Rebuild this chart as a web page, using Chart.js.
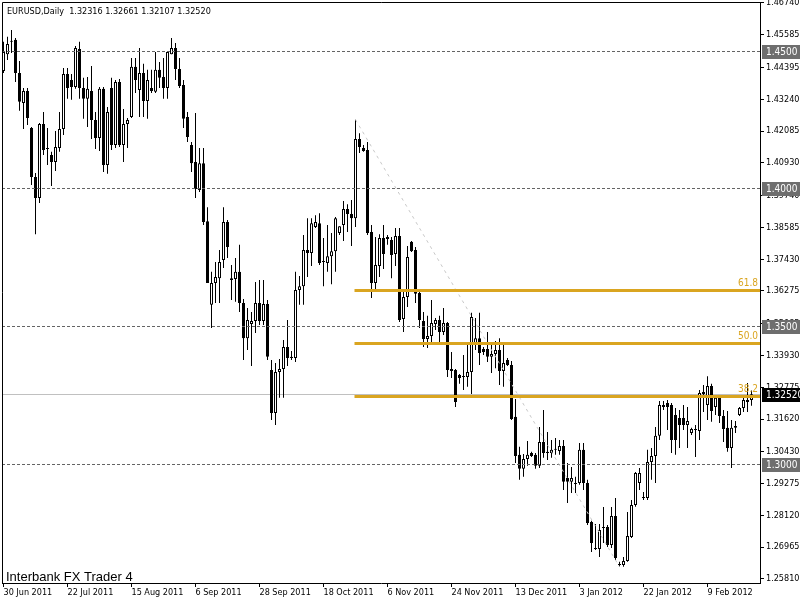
<!DOCTYPE html>
<html>
<head>
<meta charset="utf-8">
<script src="https://cdn.jsdelivr.net/npm/chart.js@4.4.1/dist/chart.umd.min.js"></script>
<style>
html, body { margin: 0; padding: 0; background: #fff; }
canvas { display: block; }
</style>
</head>
<body>
<canvas id="chart" width="800" height="600"></canvas>
<script>
const symbol = 'EURUSD,Daily';
const broker = 'Interbank FX Trader 4';

// date labels sit under every 16th daily bar
const tickBars = [0, 16, 32, 48, 64, 80, 96, 112, 128, 144, 160, 176];
const tickLabels = ['30 Jun 2011', '22 Jul 2011', '15 Aug 2011', '6 Sep 2011', '28 Sep 2011', '18 Oct 2011',
  '6 Nov 2011', '24 Nov 2011', '13 Dec 2011', '3 Jan 2012', '22 Jan 2012', '9 Feb 2012'];
const priceTicks = [1.46740, 1.45585, 1.44395, 1.43240, 1.42085, 1.40930, 1.39740, 1.38585, 1.37430, 1.36275,
  1.35085, 1.33930, 1.32775, 1.31620, 1.30430, 1.29275, 1.28120, 1.26965, 1.25810];

const open = [1.4427, 1.4488, 1.4533, 1.4540, 1.4420, 1.4311, 1.4354, 1.4220, 1.4042, 1.3965,
  1.4234, 1.4147, 1.4122, 1.4096, 1.4147, 1.4216, 1.4416, 1.4394, 1.4369, 1.4507,
  1.4365, 1.4326, 1.4354, 1.4249, 1.4183, 1.4362, 1.4085, 1.4365, 1.4158, 1.4387,
  1.4158, 1.4234, 1.4260, 1.4442, 1.4358, 1.4420, 1.4318, 1.4365, 1.4351, 1.4431,
  1.4405, 1.4365, 1.4488, 1.4510, 1.4434, 1.4376, 1.4260, 1.4158, 1.4096, 1.3994,
  1.4092, 1.3881, 1.3577, 1.3656, 1.3674, 1.3740, 1.3878, 1.3674, 1.3671, 1.3697,
  1.3584, 1.3456, 1.3507, 1.3518, 1.3584, 1.3518, 1.3580, 1.3340, 1.3184, 1.3333,
  1.3344, 1.3424, 1.3384, 1.3384, 1.3631, 1.3645, 1.3776, 1.3765, 1.3860, 1.3874,
  1.3733, 1.3729, 1.3754, 1.3772, 1.3838, 1.3867, 1.3925, 1.3907, 1.3892, 1.4180,
  1.4147, 1.4140, 1.3842, 1.3656, 1.3718, 1.3820, 1.3824, 1.3813, 1.3762, 1.3827,
  1.3526, 1.3606, 1.3806, 1.3776, 1.3620, 1.3518, 1.3453, 1.3464, 1.3507, 1.3522,
  1.3478, 1.3511, 1.3344, 1.3340, 1.3322, 1.3315, 1.3315, 1.3333, 1.3438, 1.3456,
  1.3417, 1.3417, 1.3388, 1.3398, 1.3413, 1.3337, 1.3377, 1.3358, 1.3170, 1.3032,
  1.2981, 1.3017, 1.3039, 1.3032, 1.2992, 1.3079, 1.3043, 1.3039, 1.3050, 1.3046,
  1.3064, 1.2948, 1.2934, 1.2930, 1.2930, 1.3050, 1.2930, 1.2788, 1.2693, 1.2690,
  1.2766, 1.2770, 1.2704, 1.2810, 1.2635, 1.2632, 1.2646, 1.2733, 1.2850, 1.2930,
  1.2879, 1.2875, 1.3006, 1.3028, 1.3101, 1.3213, 1.3220, 1.3213, 1.3177, 1.3166,
  1.3166, 1.3140, 1.3111, 1.3126, 1.3119, 1.3260, 1.3213, 1.3282, 1.3206, 1.3239,
  1.3173, 1.3130, 1.3057, 1.3130, 1.3177, 1.3202, 1.3231, 1.32316];
const high = [1.4533, 1.4551, 1.4576, 1.4547, 1.4463, 1.4365, 1.4365, 1.4223, 1.4056, 1.4238,
  1.4278, 1.4220, 1.4133, 1.4209, 1.4278, 1.4438, 1.4438, 1.4416, 1.4518, 1.4533,
  1.4402, 1.4405, 1.4445, 1.4278, 1.4369, 1.4369, 1.4296, 1.4402, 1.4394, 1.4398,
  1.4289, 1.4256, 1.4474, 1.4474, 1.4510, 1.4453, 1.4431, 1.4431, 1.4496, 1.4460,
  1.4474, 1.4496, 1.4547, 1.4529, 1.4474, 1.4394, 1.4278, 1.4169, 1.4274, 1.4147,
  1.4147, 1.3932, 1.3697, 1.3733, 1.3776, 1.3932, 1.3885, 1.3722, 1.3747, 1.3795,
  1.3598, 1.3566, 1.3551, 1.3660, 1.3667, 1.3667, 1.3595, 1.3377, 1.3366, 1.3380,
  1.3449, 1.3522, 1.3409, 1.3697, 1.3682, 1.3831, 1.3892, 1.3892, 1.3903, 1.3910,
  1.3820, 1.3867, 1.3838, 1.3896, 1.3863, 1.3954, 1.3943, 1.3958, 1.4250, 1.4201,
  1.4158, 1.4169, 1.3867, 1.3824, 1.3834, 1.3867, 1.3831, 1.3824, 1.3856, 1.3856,
  1.3631, 1.3791, 1.3809, 1.3787, 1.3631, 1.3551, 1.3537, 1.3595, 1.3529, 1.3537,
  1.3566, 1.3515, 1.3406, 1.3344, 1.3326, 1.3395, 1.3431, 1.3548, 1.3529, 1.3548,
  1.3424, 1.3478, 1.3442, 1.3446, 1.3456, 1.3438, 1.3384, 1.3373, 1.3235, 1.3061,
  1.3035, 1.3082, 1.3043, 1.3039, 1.3133, 1.3195, 1.3115, 1.3086, 1.3093, 1.3086,
  1.3086, 1.3002, 1.2988, 1.2952, 1.3075, 1.3075, 1.2941, 1.2792, 1.2781, 1.2781,
  1.2842, 1.2777, 1.2842, 1.2875, 1.2643, 1.2661, 1.2824, 1.2868, 1.2970, 1.2984,
  1.2897, 1.3050, 1.3057, 1.3133, 1.3228, 1.3228, 1.3231, 1.3220, 1.3202, 1.3195,
  1.3213, 1.3206, 1.3130, 1.3140, 1.3268, 1.3286, 1.3318, 1.3290, 1.3249, 1.3242,
  1.3195, 1.3191, 1.3159, 1.3155, 1.3206, 1.3239, 1.3293, 1.32661];
const low = [1.4420, 1.4467, 1.4492, 1.4387, 1.4282, 1.4216, 1.4231, 1.4013, 1.3834, 1.3947,
  1.4122, 1.4085, 1.4009, 1.4063, 1.4133, 1.4194, 1.4326, 1.4322, 1.4362, 1.4326,
  1.4253, 1.4223, 1.4180, 1.4143, 1.4136, 1.4060, 1.4053, 1.4140, 1.4147, 1.4151,
  1.4096, 1.4147, 1.4256, 1.4347, 1.4260, 1.4260, 1.4253, 1.4347, 1.4347, 1.4365,
  1.4326, 1.4326, 1.4488, 1.4394, 1.4365, 1.4220, 1.4169, 1.4060, 1.3965, 1.3987,
  1.3867, 1.3660, 1.3493, 1.3584, 1.3584, 1.3711, 1.3747, 1.3595, 1.3588, 1.3551,
  1.3377, 1.3413, 1.3355, 1.3475, 1.3504, 1.3504, 1.3377, 1.3159, 1.3140, 1.3239,
  1.3239, 1.3355, 1.3377, 1.3369, 1.3577, 1.3577, 1.3678, 1.3718, 1.3856, 1.3722,
  1.3645, 1.3697, 1.3652, 1.3697, 1.3831, 1.3809, 1.3842, 1.3791, 1.3860, 1.4129,
  1.4133, 1.3831, 1.3602, 1.3624, 1.3678, 1.3707, 1.3795, 1.3674, 1.3718, 1.3515,
  1.3478, 1.3569, 1.3769, 1.3584, 1.3493, 1.3424, 1.3420, 1.3442, 1.3486, 1.3442,
  1.3467, 1.3315, 1.3311, 1.3206, 1.3290, 1.3268, 1.3279, 1.3253, 1.3413, 1.3358,
  1.3395, 1.3369, 1.3329, 1.3347, 1.3286, 1.3279, 1.3355, 1.3159, 1.3002, 1.2941,
  1.2952, 1.2992, 1.3024, 1.2981, 1.2984, 1.3021, 1.3013, 1.3021, 1.3032, 1.3032,
  1.2904, 1.2857, 1.2893, 1.2893, 1.2923, 1.2904, 1.2777, 1.2679, 1.2686, 1.2661,
  1.2712, 1.2697, 1.2693, 1.2650, 1.2625, 1.2625, 1.2643, 1.2730, 1.2843, 1.2904,
  1.2868, 1.2868, 1.2941, 1.2930, 1.3086, 1.3195, 1.3122, 1.3039, 1.3032, 1.3057,
  1.3122, 1.3057, 1.3104, 1.3024, 1.3086, 1.3188, 1.3159, 1.3152, 1.3177, 1.3148,
  1.3079, 1.3043, 1.2984, 1.3111, 1.3173, 1.3188, 1.3188, 1.32107];
const close = [1.4496, 1.4525, 1.4536, 1.4420, 1.4315, 1.4354, 1.4256, 1.4042, 1.3965, 1.4234,
  1.4140, 1.4143, 1.4096, 1.4151, 1.4216, 1.4416, 1.4365, 1.4369, 1.4510, 1.4365,
  1.4326, 1.4362, 1.4249, 1.4183, 1.4362, 1.4085, 1.4278, 1.4158, 1.4387, 1.4158,
  1.4234, 1.4249, 1.4442, 1.4394, 1.4420, 1.4318, 1.4394, 1.4354, 1.4431, 1.4402,
  1.4365, 1.4496, 1.4510, 1.4434, 1.4372, 1.4253, 1.4187, 1.4092, 1.3998, 1.4092,
  1.3878, 1.3656, 1.3656, 1.3678, 1.3733, 1.3878, 1.3787, 1.3667, 1.3697, 1.3584,
  1.3456, 1.3522, 1.3518, 1.3584, 1.3518, 1.3580, 1.3388, 1.3184, 1.3333, 1.3344,
  1.3424, 1.3384, 1.3388, 1.3631, 1.3645, 1.3776, 1.3765, 1.3874, 1.3878, 1.3729,
  1.3736, 1.3754, 1.3772, 1.3892, 1.3863, 1.3925, 1.3907, 1.3892, 1.4180, 1.4151,
  1.4136, 1.3838, 1.3656, 1.3722, 1.3820, 1.3762, 1.3816, 1.3758, 1.3827, 1.3522,
  1.3606, 1.3751, 1.3772, 1.3617, 1.3522, 1.3453, 1.3464, 1.3511, 1.3522, 1.3478,
  1.3511, 1.3340, 1.3337, 1.3224, 1.3311, 1.3318, 1.3333, 1.3533, 1.3456, 1.3402,
  1.3406, 1.3388, 1.3398, 1.3413, 1.3337, 1.3366, 1.3358, 1.3162, 1.3028, 1.2981,
  1.3017, 1.3032, 1.3028, 1.2992, 1.3079, 1.3039, 1.3039, 1.3050, 1.3053, 1.3064,
  1.2934, 1.2934, 1.2948, 1.2926, 1.3050, 1.2930, 1.2784, 1.2712, 1.2690, 1.2759,
  1.2770, 1.2704, 1.2810, 1.2657, 1.2632, 1.2646, 1.2737, 1.2850, 1.2966, 1.2966,
  1.2875, 1.3006, 1.3028, 1.3101, 1.3213, 1.3206, 1.3206, 1.3086, 1.3086, 1.3140,
  1.3140, 1.3155, 1.3126, 1.3122, 1.3257, 1.3253, 1.3282, 1.3191, 1.3239, 1.3173,
  1.3126, 1.3057, 1.3130, 1.3137, 1.3202, 1.3231, 1.3224, 1.32520];

// horizontal line objects and the Fibonacci retracement (swing high bar -> swing low bar)
const hLines = [1.4500, 1.4000, 1.3500, 1.3000];
const fibFrom = 88, fibTo = 154;
const fibLevels = [38.2, 50.0, 61.8];

const gold = '#daa520';
const axisFont = {family: '"DejaVu Sans Condensed", "DejaVu Sans", sans-serif', size: 9};

const last = close.length - 1;
const fibHigh = high[fibFrom], fibLow = low[fibTo];

const overlay = {
  id: 'overlay',
  beforeDatasetsDraw(chart) {
    const {ctx, chartArea: a, scales: {y}} = chart;
    // bid line
    const by = Math.round(y.getPixelForValue(close[last])) + 0.5;
    ctx.save();
    ctx.strokeStyle = '#c0c0c0';
    ctx.lineWidth = 1;
    ctx.beginPath(); ctx.moveTo(a.left, by); ctx.lineTo(a.right, by); ctx.stroke();
    ctx.restore();
  },
  afterDatasetsDraw(chart) {
    const {ctx, chartArea: a, scales: {x, y}} = chart;
    ctx.save();
    ctx.beginPath(); ctx.rect(a.left, a.top, a.right - a.left, a.bottom - a.top); ctx.clip();

    ctx.strokeStyle = '#646464';
    ctx.lineWidth = 1;
    ctx.setLineDash([3, 2]);
    hLines.forEach(v => {
      const py = Math.round(y.getPixelForValue(v)) + 0.5;
      ctx.beginPath(); ctx.moveTo(a.left, py); ctx.lineTo(a.right, py); ctx.stroke();
    });

    // fibo trend line
    ctx.strokeStyle = '#c8c8c8';
    ctx.setLineDash([3, 4]);
    ctx.beginPath();
    ctx.moveTo(x.getPixelForValue(fibFrom), y.getPixelForValue(fibHigh));
    ctx.lineTo(x.getPixelForValue(fibTo), y.getPixelForValue(fibLow));
    ctx.stroke();

    ctx.setLineDash([]);
    ctx.strokeStyle = gold;
    ctx.lineWidth = 3;
    ctx.fillStyle = gold;
    ctx.font = '10px ' + axisFont.family;
    ctx.textAlign = 'right';
    ctx.textBaseline = 'bottom';
    const x0 = x.getPixelForValue(fibFrom) - 1;
    fibLevels.forEach(l => {
      const v = fibLow + (fibHigh - fibLow) * l / 100;
      const py = Math.round(y.getPixelForValue(v)) + 0.5;
      ctx.beginPath(); ctx.moveTo(x0, py); ctx.lineTo(a.right, py); ctx.stroke();
      ctx.fillText(l.toFixed(1), a.right - 2, py - 2);
    });
    ctx.restore();
  },
  afterDraw(chart) {
    const {ctx, chartArea: a, scales: {y}} = chart;
    ctx.save();
    // frame top and left
    ctx.strokeStyle = '#000';
    ctx.lineWidth = 1;
    ctx.beginPath();
    ctx.moveTo(a.left + 0.5, a.bottom); ctx.lineTo(a.left + 0.5, a.top + 0.5); ctx.lineTo(a.right, a.top + 0.5);
    ctx.stroke();

    ctx.fillStyle = '#000';
    ctx.textAlign = 'left';
    ctx.textBaseline = 'alphabetic';
    ctx.font = '9px ' + axisFont.family;
    const ohlc = [open[last], high[last], low[last], close[last]].map(v => v.toFixed(5)).join(' ');
    ctx.fillText(symbol + '  ' + ohlc, 7, 14);
    ctx.font = '13px "Liberation Sans", Arial, sans-serif';
    ctx.fillText(broker, 6, a.bottom - 2);

    // price labels on the axis
    ctx.font = '10px ' + axisFont.family;
    ctx.textBaseline = 'middle';
    const box = (v, text, bg) => {
      const py = Math.round(y.getPixelForValue(v));
      ctx.fillStyle = bg;
      ctx.fillRect(a.right + 2, py - 6, 40, 14);
      ctx.fillStyle = '#fff';
      ctx.fillText(text, a.right + 6, py + 1);
    };
    hLines.forEach(v => box(v, v.toFixed(4), '#6e6e6e'));
    box(close[last], close[last].toFixed(5), '#000');
    ctx.restore();
  }
};

const isUp = i => close[i] >= open[i];

new Chart(document.getElementById('chart'), {
  type: 'bar',
  data: {
    datasets: [
      {
        label: 'wick',
        data: high.map((h, i) => ({x: i, y: [low[i], h]})),
        backgroundColor: '#000',
        borderWidth: 0,
        barThickness: 1,
        grouped: false,
        inflateAmount: 0,
        order: 2
      },
      {
        label: 'body',
        data: close.map((c, i) => ({x: i, y: [open[i], c]})),
        backgroundColor: ctx => isUp(ctx.dataIndex) ? '#fff' : '#000',
        borderColor: '#000',
        borderWidth: 1,
        borderSkipped: false,
        barThickness: 3,
        minBarLength: 1,
        grouped: false,
        inflateAmount: 0,
        order: 1
      }
    ]
  },
  options: {
    responsive: false,
    animation: false,
    events: [],
    layout: {padding: {left: 2, top: 2, right: 0, bottom: 0}},
    plugins: {legend: {display: false}, tooltip: {enabled: false}},
    scales: {
      x: {
        type: 'linear',
        offset: false,
        min: -0.375,
        max: 189.125,
        grid: {display: true, drawOnChartArea: false, drawTicks: true, tickLength: 4, tickColor: '#000', offset: false},
        border: {display: true, color: '#000'},
        afterBuildTicks: s => { s.ticks = tickBars.map(v => ({value: v})); },
        afterFit: s => { s.height = 17; s.paddingLeft = 0; s.paddingRight = 0; },
        ticks: {
          autoSkip: false, maxRotation: 0, minRotation: 0, align: 'start', padding: 0,
          color: '#000', font: axisFont,
          callback: (v, i) => tickLabels[i]
        }
      },
      y: {
        type: 'linear',
        position: 'right',
        beginAtZero: false,
        min: 1.25662,
        max: 1.46776,
        grid: {display: true, drawOnChartArea: false, drawTicks: true, tickLength: 4, tickColor: '#000'},
        border: {display: true, color: '#000'},
        afterBuildTicks: s => { s.ticks = priceTicks.map(v => ({value: v})); },
        afterFit: s => { s.width = 40; s.paddingTop = 0; s.paddingBottom = 0; },
        ticks: {
          autoSkip: false, padding: 2, color: '#000', font: axisFont,
          callback: v => v.toFixed(5)
        }
      }
    }
  },
  plugins: [overlay]
});
</script>
</body>
</html>
